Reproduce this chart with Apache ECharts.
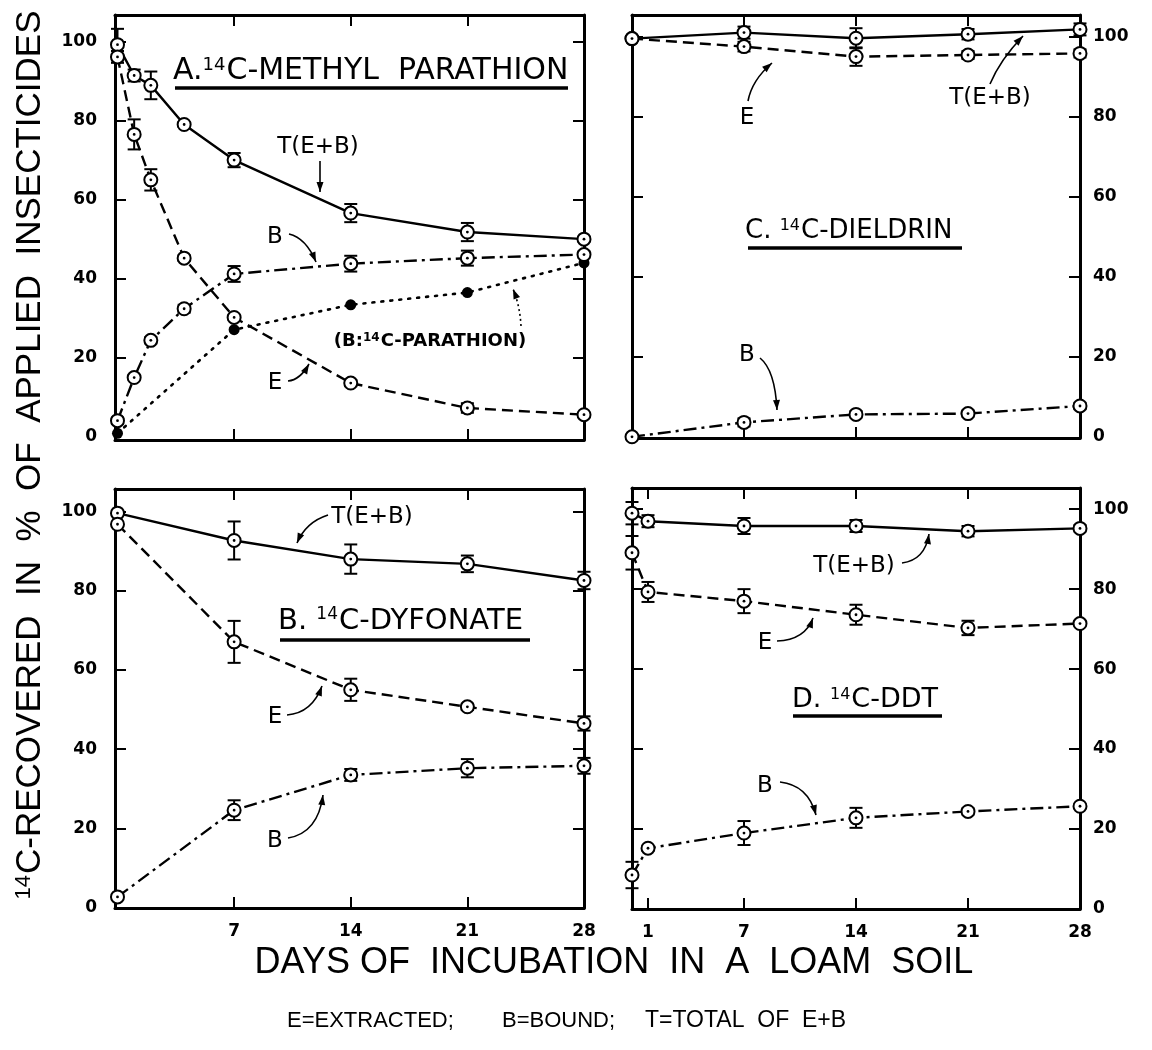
<!DOCTYPE html>
<html><head><meta charset="utf-8">
<script src="https://cdn.jsdelivr.net/npm/echarts@6/dist/echarts.min.js"></script>
<style>html,body{margin:0;padding:0;background:#fff}#c{width:1152px;height:1050px}</style>
</head><body><div id="c"></div>
<script>
// ---------- DATA ----------
// Panel A: 14C-methyl parathion
const daysA = [0, 1, 2, 4, 7, 14, 21, 28];
const aTotal = [99.2, 91.4, 88.9, 79.0, 70.0, 56.6, 51.8, 50.0];
const aTotalErr = [4.0, 1.5, 3.5, 0.6, 1.8, 2.3, 2.3, 0.6];
const aExtracted = [96.1, 76.5, 65.0, 45.2, 30.2, 13.6, 7.3, 5.6];
const aExtractedErr = [1.5, 3.8, 2.7, 0.7, 0.7, 0.8, 1.2, 0.4];
const aBound = [4.1, 15.0, 24.4, 32.4, 41.2, 43.8, 45.2, 46.1];
const aBoundErr = [0.8, 0.7, 0.8, 1.0, 2.0, 2.0, 1.9, 0.8];
const daysAP = [0, 7, 14, 21, 28];
const aBoundParathion = [0.9, 27.1, 33.4, 36.5, 44.0];
// Panel B: 14C-dyfonate
const daysB = [0, 7, 14, 21, 28];
const bTotal = [99.6, 92.7, 88.0, 86.8, 82.6];
const bTotalErr = [0.5, 4.8, 3.7, 2.1, 2.2];
const bExtracted = [96.8, 67.1, 55.0, 50.7, 46.5];
const bExtractedErr = [0.5, 5.3, 2.8, 0.8, 1.8];
const bBound = [2.7, 24.6, 33.5, 35.2, 35.8];
const bBoundErr = [0.3, 2.5, 1.5, 2.3, 2.0];
// Panel C: 14C-dieldrin
const daysC = [0, 7, 14, 21, 28];
const cTotal = [99.5, 101.0, 99.6, 100.6, 101.8];
const cTotalErr = [0, 1.5, 2.5, 1.3, 1.5];
const cExtracted = [99.5, 97.5, 95.0, 95.4, 95.8];
const cExtractedErr = [0, 1.2, 2.3, 1.0, 1.0];
const cBound = [0.0, 3.6, 5.6, 5.8, 7.7];
const cBoundErr = [0, 1.0, 0.8, 0.8, 0.8];
// Panel D: 14C-DDT
const daysD = [0, 1, 7, 14, 21, 28];
const dTotal = [99.0, 97.0, 95.8, 95.8, 94.5, 95.2];
const dTotalErr = [2.8, 1.5, 2.0, 1.5, 1.3, 0.8];
const dExtracted = [89.1, 79.3, 77.0, 73.6, 70.3, 71.4];
const dExtractedErr = [4.2, 2.5, 3.0, 2.5, 1.8, 0.7];
const dBound = [8.5, 15.2, 19.0, 22.8, 24.4, 25.7];
const dBoundErr = [3.3, 0.6, 3.0, 2.5, 0.8, 0.5];
// Tick labels
const yTickLabels = [0, 20, 40, 60, 80, 100];
const yTickMarks = [20, 40, 60, 80, 100];
const xTickLabelsB = [7, 14, 21, 28];
const xTickLabelsD = [1, 7, 14, 21, 28];
const xTickMarks = [7, 14, 21];
const xTickMarksD = [1, 7, 14, 21];

// ---------- LAYOUT ----------
const NUMFONT = "'DejaVu Sans', sans-serif";
const TITLEFONT = "'DejaVu Sans', sans-serif";
const AXFONT = "'Liberation Sans', Arial, sans-serif";
const grids = [
  {left: 115, top: 15, width: 469, height: 425},   // A
  {left: 632, top: 15, width: 448, height: 423},   // C
  {left: 115, top: 489, width: 469, height: 419},  // B
  {left: 632, top: 488, width: 448, height: 421}   // D
];
const yRanges = [[-0.8, 106.7], [-0.3, 105.4], [-0.1, 105.7], [0, 105.3]];
const xRanges = [[-0.15, 28], [0, 28], [-0.15, 28], [0, 28]];
const leftLabels = [true, false, true, false];
const rightLabels = [false, true, false, true];
const bottomLabels = [null, null, xTickLabelsB, xTickLabelsD];
const xTicks = [xTickMarks, xTickMarks, xTickMarks, xTickMarksD];

const axLine = {show: true, onZero: false, lineStyle: {color: '#000', width: 3}};
function tick(vals) { return {show: true, inside: true, length: 11, customValues: vals, lineStyle: {color: '#000', width: 2}}; }
const numLabel = {color: '#000', fontFamily: NUMFONT, fontSize: 17, fontWeight: 'bold'};

const xAxis = [], yAxis = [];
grids.forEach((g, i) => {
  xAxis.push({type: 'value', gridIndex: i, position: 'bottom', min: xRanges[i][0], max: xRanges[i][1],
    axisLine: axLine, axisTick: tick(xTicks[i]), splitLine: {show: false},
    axisLabel: bottomLabels[i] ? Object.assign({show: true, customValues: bottomLabels[i], margin: 15}, numLabel) : {show: false}});
  xAxis.push({type: 'value', gridIndex: i, position: 'top', min: xRanges[i][0], max: xRanges[i][1],
    axisLine: axLine, axisTick: tick(xTicks[i]), splitLine: {show: false}, axisLabel: {show: false}});
  yAxis.push({type: 'value', gridIndex: i, position: 'left', min: yRanges[i][0], max: yRanges[i][1],
    axisLine: axLine, axisTick: tick(yTickMarks), splitLine: {show: false},
    axisLabel: leftLabels[i] ? Object.assign({show: true, customValues: yTickLabels, margin: 18}, numLabel) : {show: false}});
  yAxis.push({type: 'value', gridIndex: i, position: 'right', min: yRanges[i][0], max: yRanges[i][1],
    axisLine: axLine, axisTick: tick(yTickMarks), splitLine: {show: false},
    axisLabel: rightLabels[i] ? Object.assign({show: true, customValues: yTickLabels, margin: 13}, numLabel) : {show: false}});
});

const SOLID = 'solid', DASH = [11, 6], DASHDOT = [13, 5, 3, 5], DOT = [2, 7];
function lineS(gi, xs, ys, type, width) {
  return {type: 'line', xAxisIndex: gi * 2, yAxisIndex: gi * 2, data: xs.map((x, k) => [x, ys[k]]),
    symbol: 'none', silent: true, z: 2, lineStyle: {color: '#000', width: width || 2.4, type: type, cap: type === DOT ? 'round' : 'butt'}};
}
function markS(gi, xs, ys, errs, filled) {
  return {type: 'custom', xAxisIndex: gi * 2, yAxisIndex: gi * 2, z: 5, silent: true,
    encode: {x: 0, y: 1},
    data: xs.map((x, k) => [x, ys[k], errs ? errs[k] : 0]),
    renderItem: function (params, api) {
      const x = api.value(0), y = api.value(1), e = api.value(2);
      const c = api.coord([x, y]);
      const ch = [];
      if (e > 0) {
        const t = api.coord([x, y + e])[1], b = api.coord([x, y - e])[1];
        const st = {stroke: '#000', lineWidth: 2};
        ch.push({type: 'line', shape: {x1: c[0], y1: t, x2: c[0], y2: b}, style: st});
        ch.push({type: 'line', shape: {x1: c[0] - 6.5, y1: t, x2: c[0] + 6.5, y2: t}, style: st});
        ch.push({type: 'line', shape: {x1: c[0] - 6.5, y1: b, x2: c[0] + 6.5, y2: b}, style: st});
      }
      if (filled) {
        ch.push({type: 'circle', shape: {cx: c[0], cy: c[1], r: 5.5}, style: {fill: '#000'}});
      } else {
        ch.push({type: 'circle', shape: {cx: c[0], cy: c[1], r: 6.5}, style: {fill: '#fff', stroke: '#000', lineWidth: 2}});
        ch.push({type: 'circle', shape: {cx: c[0], cy: c[1], r: 1.4}, style: {fill: '#000'}});
      }
      return {type: 'group', children: ch};
    }};
}

const series = [
  // A
  lineS(0, daysA, aTotal, SOLID), lineS(0, daysA, aExtracted, DASH), lineS(0, daysA, aBound, DASHDOT),
  lineS(0, daysAP, aBoundParathion, DOT, 2.6),
  markS(0, daysAP, aBoundParathion, null, true),
  markS(0, daysA, aTotal, aTotalErr), markS(0, daysA, aExtracted, aExtractedErr), markS(0, daysA, aBound, aBoundErr),
  // C
  lineS(1, daysC, cTotal, SOLID), lineS(1, daysC, cExtracted, DASH), lineS(1, daysC, cBound, DASHDOT),
  markS(1, daysC, cTotal, cTotalErr), markS(1, daysC, cExtracted, cExtractedErr), markS(1, daysC, cBound, cBoundErr),
  // B
  lineS(2, daysB, bTotal, SOLID), lineS(2, daysB, bExtracted, DASH), lineS(2, daysB, bBound, DASHDOT),
  markS(2, daysB, bTotal, bTotalErr), markS(2, daysB, bExtracted, bExtractedErr), markS(2, daysB, bBound, bBoundErr),
  // D
  lineS(3, daysD, dTotal, SOLID), lineS(3, daysD, dExtracted, DASH), lineS(3, daysD, dBound, DASHDOT),
  markS(3, daysD, dTotal, dTotalErr), markS(3, daysD, dExtracted, dExtractedErr), markS(3, daysD, dBound, dBoundErr)
];

// ---------- ANNOTATIONS ----------
const G = [];
function text(x, y, t, size, opt) {
  opt = opt || {};
  G.push({type: 'text', x: x, y: y, rotation: opt.rot || 0, z: 10,
    style: {text: t, fill: '#000', fontSize: size, fontFamily: opt.font || TITLEFONT, fontWeight: opt.weight || 'normal',
      align: opt.align || 'center', verticalAlign: 'middle', rich: opt.rich}});
}
function supText(x, y, t, size, supSize, opt) {
  opt = opt || {};
  const f = opt.font || TITLEFONT, w = opt.weight || 'normal';
  text(x, y, t, size, Object.assign({}, opt, {rich: {
    m: {fontSize: size, fontFamily: f, fontWeight: w, fill: '#000'},
    s: {fontSize: supSize, fontFamily: f, fontWeight: w, fill: '#000', verticalAlign: 'top', padding: [0, 1, 0, 0]}
  }}));
}
function uline(x1, x2, y) {
  G.push({type: 'line', z: 10, shape: {x1: x1, y1: y, x2: x2, y2: y}, style: {stroke: '#000', lineWidth: 3.5}});
}
function arrow(x1, y1, cx, cy, x2, y2, dashed) {
  G.push({type: 'bezierCurve', z: 10, shape: {x1: x1, y1: y1, x2: x2, y2: y2, cpx1: cx, cpy1: cy},
    style: {stroke: '#000', lineWidth: 1.6, fill: null, lineDash: dashed ? [2, 3] : null}});
  const a = Math.atan2(y2 - cy, x2 - cx), L = 10, W = 3.5;
  const bx = x2 - L * Math.cos(a), by = y2 - L * Math.sin(a);
  G.push({type: 'polygon', z: 10, shape: {points: [[x2, y2], [bx + W * Math.sin(a), by - W * Math.cos(a)], [bx - W * Math.sin(a), by + W * Math.cos(a)]]},
    style: {fill: '#000'}});
}

// panel titles
supText(173, 71, '{m|A.}{s|14}{m|C-METHYL  PARATHION}', 30, 18, {align: 'left'});
uline(175, 568, 88);
supText(745, 231, '{m|C. }{s|14}{m|C-DIELDRIN}', 26, 16, {align: 'left'});
uline(748, 962, 248);
supText(278, 621, '{m|B. }{s|14}{m|C-DYFONATE}', 29, 17, {align: 'left'});
uline(280, 530, 640);
supText(792, 700, '{m|D. }{s|14}{m|C-DDT}', 27, 16, {align: 'left'});
uline(793, 942, 716);

// panel A notes
text(318, 147, 'T(E+B)', 23);
arrow(320, 161, 320, 176, 320, 192);
text(275, 237, 'B', 23);
arrow(289, 234, 306, 238, 316, 262);
text(275, 383, 'E', 23);
arrow(288, 381, 300, 380, 309, 364);
supText(430, 341, '{m|(B:}{s|14}{m|C-PARATHION)}', 18, 12, {weight: 'bold'});
arrow(521, 326, 520, 306, 513, 289, true);
// panel C notes
text(747, 118, 'E', 23);
arrow(748, 101, 752, 80, 772, 63);
text(990, 98, 'T(E+B)', 23);
arrow(990, 84, 1000, 60, 1023, 36);
text(747, 355, 'B', 23);
arrow(760, 358, 775, 370, 777, 410);
// panel B notes
text(372, 517, 'T(E+B)', 23);
arrow(328, 515, 306, 522, 297, 543);
text(275, 717, 'E', 23);
arrow(287, 715, 312, 713, 322, 686);
text(275, 841, 'B', 23);
arrow(288, 838, 318, 833, 323, 795);
// panel D notes
text(854, 566, 'T(E+B)', 23);
arrow(902, 563, 925, 560, 929, 534);
text(765, 643, 'E', 23);
arrow(777, 641, 805, 640, 813, 618);
text(765, 786, 'B', 23);
arrow(780, 782, 808, 785, 816, 815);

// axis titles and footer
supText(30, 455, '{s|14}{m|C-RECOVERED  IN  %  OF  APPLIED  INSECTICIDES}', 35, 22, {rot: Math.PI / 2, font: AXFONT});
text(614, 963, 'DAYS OF  INCUBATION  IN  A  LOAM  SOIL', 36, {font: AXFONT});
text(287, 1021, 'E=EXTRACTED;', 22, {font: AXFONT, align: 'left'});
text(502, 1021, 'B=BOUND;', 22, {font: AXFONT, align: 'left'});
text(645, 1021, 'T=TOTAL  OF  E+B', 23, {font: AXFONT, align: 'left'});

const chart = echarts.init(document.getElementById('c'));
chart.setOption({
  animation: false,
  backgroundColor: '#fff',
  grid: grids,
  xAxis: xAxis,
  yAxis: yAxis,
  series: series,
  graphic: G
});
</script></body></html>
